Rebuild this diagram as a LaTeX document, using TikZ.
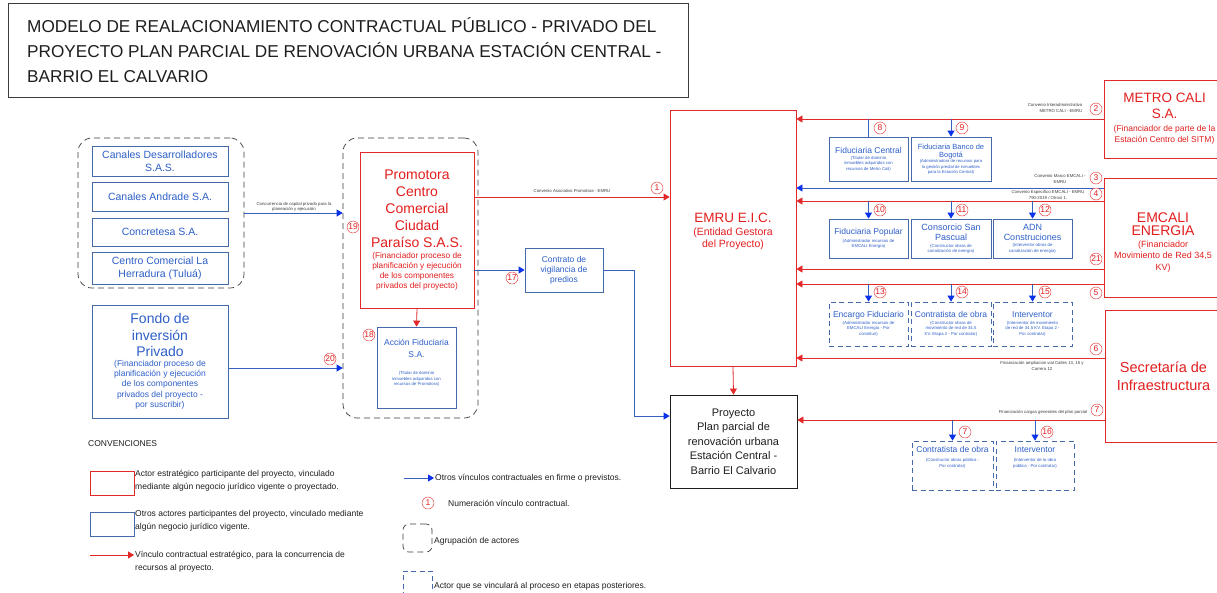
\documentclass[tikz,border=0pt]{standalone}
\usepackage{fontspec}
\setmainfont{Liberation Sans}
\usetikzlibrary{arrows.meta,calc}
\definecolor{redc}{RGB}{226,40,40}
\definecolor{redt}{RGB}{226,30,30}
\definecolor{blueb}{RGB}{70,105,170}
\definecolor{bluet}{RGB}{45,95,200}
\definecolor{bluel}{RGB}{55,95,190}
\definecolor{blueh}{RGB}{10,50,235}
\definecolor{grayd}{RGB}{60,60,60}
\definecolor{txt}{RGB}{30,30,30}
\newcommand\myfs[2]{\fontsize{#1}{#2}\selectfont}
\begin{document}
\begin{tikzpicture}[x=1pt,y=-1pt,
 redbox/.style={draw=redc, line width=0.8pt, fill=white, inner sep=0pt, align=flush center, text=redt},
 bluebox/.style={draw=blueb, line width=0.8pt, fill=white, inner sep=0pt, align=flush center, text=bluet},
 bluedash/.style={bluebox, dash pattern=on 5pt off 3.5pt},
 grp/.style={draw=grayd, line width=0.7pt, dash pattern=on 6pt off 4pt, rounded corners=14pt},
 rarrow/.style={draw=redc, line width=0.8pt, -{Triangle[length=6pt,width=7pt]}},
 barrow/.style={draw=bluel, line width=0.8pt, -{Triangle[length=6pt,width=7pt,color=blueh]}},
 bline/.style={draw=bluel, line width=0.8pt},
 num/.style={circle, draw=redc, fill=white, text=redt, inner sep=0pt, minimum size=12pt, font=\myfs{8.5}{9}},
 lab/.style={font=\myfs{4.3}{5.2}, align=center, text=grayd, inner sep=0pt},
 legtxt/.style={font=\myfs{8.5}{13}, text=txt, align=left, inner sep=0pt, anchor=west},
 ]
\useasboundingbox (0,0) rectangle (1217,592);
\fill[white] (0,0) rectangle (1217,592);

% title
\node[draw=grayd, line width=0.7pt, minimum width=680pt, minimum height=94pt, inner sep=0pt] (title) at (348,50) {};
\node[anchor=west, align=left, inner sep=0pt, font=\myfs{17.2}{25}, text=txt] (titletxt) at (27,50)
 {MODELO DE REALACIONAMIENTO CONTRACTUAL PÚBLICO - PRIVADO DEL\\PROYECTO PLAN PARCIAL DE RENOVACIÓN URBANA ESTACIÓN CENTRAL -\\BARRIO EL CALVARIO};

% groups
\node[grp, minimum width=166pt, minimum height=150pt] (g1) at (161,213) {};
\node[grp, minimum width=135pt, minimum height=280pt] (g2) at (410.5,278) {};

% left boxes
\node[bluebox, minimum width=136pt, minimum height=30pt, text width=130pt, font=\myfs{10.5}{13}] (cdes) at (160,161) {Canales Desarrolladores\\S.A.S.};
\node[bluebox, minimum width=136pt, minimum height=29pt, text width=130pt, font=\myfs{10.5}{13}] (cand) at (160,196.5) {Canales Andrade S.A.};
\node[bluebox, minimum width=136pt, minimum height=28pt, text width=130pt, font=\myfs{10.5}{13}] (conc) at (160,232) {Concretesa S.A.};
\node[bluebox, minimum width=136pt, minimum height=32pt, text width=130pt, font=\myfs{10.5}{13}] (cher) at (160,268) {Centro Comercial La\\Herradura (Tuluá)};

\node[bluebox, minimum width=136pt, minimum height=113pt, text width=130pt] (fondo) at (160,361.5)
 {\myfs{14}{16.5}Fondo de\\inversión\\Privado\\[-1pt]
  \myfs{8.5}{10.3}(Financiador proceso de\\planificación y ejecución\\de los componentes\\privados del proyecto -\\por suscribir)\par};

% middle
\node[redbox, minimum width=114pt, minimum height=156pt, text width=110pt] (promo) at (417,230)
 {\myfs{14}{17}Promotora\\Centro\\Comercial\\Ciudad\\Paraíso S.A.S.\\[1pt]
  \myfs{8.3}{10}(Financiador proceso de\\planificación y ejecución\\de los componentes\\privados del proyecto)\par};
\node[bluebox, minimum width=79pt, minimum height=81pt, text width=76pt] (accion) at (416.5,367.5)
 {\myfs{8.5}{11.5}Acción Fiduciaria\\S.A.\\[12pt]\myfs{4.3}{5.5}(Titular de dominio\\inmuebles adquiridos con\\recursos de Promotora)\\[4pt]\mbox{}\par};
\node[bluebox, minimum width=78pt, minimum height=44pt, text width=74pt, font=\myfs{8.5}{10}] (vigil) at (564,270) {Contrato de\\vigilancia de\\predios};

\node[redbox, minimum width=126pt, minimum height=256pt, text width=120pt] (emru) at (733,238)
 {\myfs{13.5}{16}EMRU E.I.C.\\\myfs{10.5}{12.5}(Entidad Gestora\\del Proyecto)\\[2pt]\mbox{}\par};
\node[draw=txt, line width=0.8pt, fill=white, inner sep=0pt, align=flush center, text=txt, minimum width=127pt, minimum height=93pt, text width=122pt, font=\myfs{11}{14.5}] (proy) at (733.5,441.5)
 {Proyecto\\Plan parcial de\\renovación urbana\\Estación Central -\\Barrio El Calvario};

% right actors
\node[redbox, minimum width=121pt, minimum height=78pt, text width=115pt] (metro) at (1164.5,119)
 {\myfs{13.5}{16}METRO CALI\\S.A.\\[2pt]\myfs{8.5}{11}(Financiador de parte de la\\Estación Centro del SITM)\par};
\node[redbox, minimum width=118pt, minimum height=119pt, text width=110pt] (emcali) at (1163,237.5)
 {\myfs{14}{13}\rule{0pt}{20pt}EMCALI\\ENERGIA\\\myfs{9}{11.5}(Financiador\\Movimiento de Red 34,5\\KV)\par};
\node[redbox, minimum width=117pt, minimum height=132pt, text width=112pt, font=\myfs{14.5}{18}] (secre) at (1163.5,376)
 {Secretaría de\\Infraestructura};

% row boxes
\node[bluebox, minimum width=79pt, minimum height=44pt, text width=77pt] (fidc) at (868.5,159)
 {\myfs{8.5}{10}Fiduciaria Central\\[1pt]\myfs{4.3}{5.3}(Titular de dominio\\inmuebles adquiridos con\\recursos de Metro Cali)\par};
\node[bluebox, minimum width=80pt, minimum height=44pt, text width=78pt] (fidb) at (951,159)
 {\myfs{7.5}{8.5}Fiduciaria Banco de\\Bogotá\\\myfs{4.2}{5.3}(Administradora de recursos para\\la gestión predial de inmuebles\\para la Estación Central)\par};
\node[bluebox, minimum width=79pt, minimum height=39pt, text width=77pt] (fidp) at (868.5,238.5)
 {\myfs{8.5}{10}Fiduciaria Popular\\[2pt]\myfs{4.3}{5.3}(Administrador recursos de\\EMCALI Energía)\par};
\node[bluebox, minimum width=80pt, minimum height=39pt, text width=78pt] (csp) at (951,238.5)
 {\myfs{9}{10.5}Consorcio San\\Pascual\\[1pt]\myfs{4.3}{5.3}(Constructor obras de\\canalización de energía)\par};
\node[bluebox, minimum width=79pt, minimum height=39pt, text width=77pt] (adn) at (1032.5,238.5)
 {\myfs{9}{10.5}ADN\\Construciones\\[1pt]\myfs{4.3}{5.3}(Interventor obras de\\canalización de energía)\par};
\node[bluedash, minimum width=79pt, minimum height=44pt, text width=77pt] (enc) at (868.5,324)
 {\myfs{8.5}{10}Encargo Fiduciario\\[1pt]\myfs{4.3}{5.5}(Administrador recursos de\\EMCALI Energía - Por\\constituir)\par};
\node[bluedash, minimum width=80pt, minimum height=44pt, text width=78pt] (cont1) at (951,324)
 {\myfs{8.5}{10}Contratista de obra\\[1pt]\myfs{4.3}{5.5}(Constructor obras de\\movimiento de red de 34,5\\KV. Etapa 2 - Por contratar)\par};
\node[bluedash, minimum width=79pt, minimum height=44pt, text width=77pt] (int1) at (1032.5,324)
 {\myfs{8.5}{10}Interventor\\[1pt]\myfs{4.3}{5.5}(Interventor de movimiento\\de red de 34,5 KV. Etapa 2 -\\Por contratar)\par};
\node[bluedash, minimum width=81pt, minimum height=49pt, text width=78pt] (cont2) at (952.5,465.5)
 {\myfs{8.5}{10}Contratista de obra\\[4pt]\myfs{4.3}{5.5}(Constructor obras pública -\\Por contratar)\\[12pt]\mbox{}\par};
\node[bluedash, minimum width=78pt, minimum height=49pt, text width=76pt] (int2) at (1035,465.5)
 {\myfs{8.5}{10}Interventor\\[4pt]\myfs{4.3}{5.5}(Interventor de la obra\\pública - Por contratar)\\[12pt]\mbox{}\par};

% level coordinates
\coordinate (y1) at (0,197);
\coordinate (y2) at (0,119);
\coordinate (y3) at (0,188);
\coordinate (y4) at (0,201);
\coordinate (y21) at (0,269);
\coordinate (y5) at (0,284);
\coordinate (y6) at (0,358);
\coordinate (y7) at (0,420);
\coordinate (y20) at (0,368);
\coordinate (yv) at (0,416);
\coordinate (xv) at (634,0);

% left connectors
\draw[barrow] (g1.east) -- (g1.east -| g2.west);
\node[lab] (l19) at (294,207) {Concurrencia de capital privado para la\\planeación y ejecución};
\draw[barrow] (fondo.east |- y20) -- (g2.west |- y20);
\draw[rarrow] (promo.south) -- (accion.north);
\draw[rarrow] (promo.east |- y1) -- (emru.west |- y1);
\node[lab] (l1) at (572,191) {Convenio Asociativo Promotora - EMRU};
\draw[barrow] (promo.east |- vigil.west) -- (vigil.west);
\draw[barrow] (vigil.east) -- (vigil.east -| xv) |- (proy.west |- yv);
\draw[rarrow] (emru.south) -- (proy.north);

% right connectors
\draw[rarrow] (metro.west |- y2) -- (emru.east |- y2);
\node[lab, align=right] (l2) at (1055,108) {Convenio Interadministrativo\\METRO CALI - EMRU};
\draw[bline] (fidc.north |- y2) -- (fidc.north);
\draw[barrow] (fidb.north |- y2) -- (fidb.north);
\draw[barrow] (emcali.west |- y3) -- (emru.east |- y3);
\node[lab] (l3) at (1060,179) {Convenio Marco EMCALI -\\EMRU};
\draw[rarrow] (emcali.west |- y4) -- (emru.east |- y4);
\node[lab] (l4) at (1048,195) {Convenio Específico EMCALI - EMRU\\790-2019 / Otrosí 1.};
\draw[barrow] (fidp.north |- y4) -- (fidp.north);
\draw[barrow] (csp.north |- y4) -- (csp.north);
\draw[barrow] (adn.north |- y4) -- (adn.north);
\draw[rarrow] (emcali.west |- y21) -- (emru.east |- y21);
\draw[rarrow] (emcali.west |- y5) -- (emru.east |- y5);
\draw[barrow] (enc.north |- y5) -- (enc.north);
\draw[barrow] (cont1.north |- y5) -- (cont1.north);
\draw[barrow] (int1.north |- y5) -- (int1.north);
\draw[rarrow] (secre.west |- y6) -- (emru.east |- y6);
\node[lab] (l6) at (1042,366) {Financiación ampliacion vial Calles 13, 15 y\\Carrera 12};
\draw[rarrow] (secre.west |- y7) -- (proy.east |- y7);
\node[lab] (l7) at (1043,412) {Financiación cargas generales del plan parcial};
\draw[barrow] (cont2.north |- y7) -- (cont2.north);
\draw[barrow] (int2.north |- y7) -- (int2.north);

% number circles
\node[num] (n1) at (657,188) {1};
\node[num] (n2) at (1096,109) {2};
\node[num] (n3) at (1096,178) {3};
\node[num] (n4) at (1096,194) {4};
\node[num] (n5) at (1096,293) {5};
\node[num] (n6) at (1096,349) {6};
\node[num] (n7) at (1097,410) {7};
\node[num] (n7b) at (965,432) {7};
\node[num] (n8) at (880,128) {8};
\node[num] (n9) at (962,128) {9};
\node[num] (n10) at (880,210) {10};
\node[num] (n11) at (962,210) {11};
\node[num] (n12) at (1045,210) {12};
\node[num] (n13) at (880,292) {13};
\node[num] (n14) at (962,292) {14};
\node[num] (n15) at (1045,292) {15};
\node[num] (n16) at (1047,432) {16};
\node[num] (n17) at (512,278) {17};
\node[num] (n18) at (369,335) {18};
\node[num] (n19) at (353,227) {19};
\node[num] (n20) at (330,359) {20};
\node[num] (n21) at (1096,259) {21};

% legend
\node[font=\myfs{8.5}{10}, text=txt, anchor=west, inner sep=0pt] (conv) at (88,444) {CONVENCIONES};
\node[draw=redc, line width=0.8pt, minimum width=44pt, minimum height=24pt, inner sep=0pt] (lgr) at (112,483) {};
\node[legtxt] (lgrt) at (135,481) {Actor estratégico participante del proyecto, vinculado\\mediante algún negocio jurídico vigente o proyectado.};
\node[draw=blueb, line width=0.8pt, minimum width=44pt, minimum height=24pt, inner sep=0pt] (lgb) at (112,524) {};
\node[legtxt] (lgbt) at (135,521) {Otros actores participantes del proyecto, vinculado mediante\\algún negocio jurídico vigente.};
\coordinate (lra) at (90,555);
\coordinate (lrb) at (134,555);
\draw[rarrow] (lra) -- (lrb);
\node[legtxt] (lgat) at (135,562) {Vínculo contractual estratégico, para la concurrencia de\\recursos al proyecto.};
\coordinate (lba) at (404,478);
\coordinate (lbb) at (434,478);
\draw[barrow] (lba) -- (lbb);
\node[legtxt] (lgbl) at (435,478) {Otros vínculos contractuales en firme o previstos.};
\node[num] (lgn) at (428,503) {1};
\node[legtxt] (lgnt) at (448,503) {Numeración vínculo contractual.};
\node[grp, rounded corners=6pt, minimum width=29pt, minimum height=28pt, inner sep=0pt] (lgg) at (417.5,538) {};
\node[legtxt] (lggt) at (434,541) {Agrupación de actores};
\node[bluedash, minimum width=29pt, minimum height=40pt] (lgd) at (417.5,591) {};
\node[legtxt] (lgdt) at (434,586) {Actor que se vinculará al proceso en etapas posteriores.};
\end{tikzpicture}
\end{document}
